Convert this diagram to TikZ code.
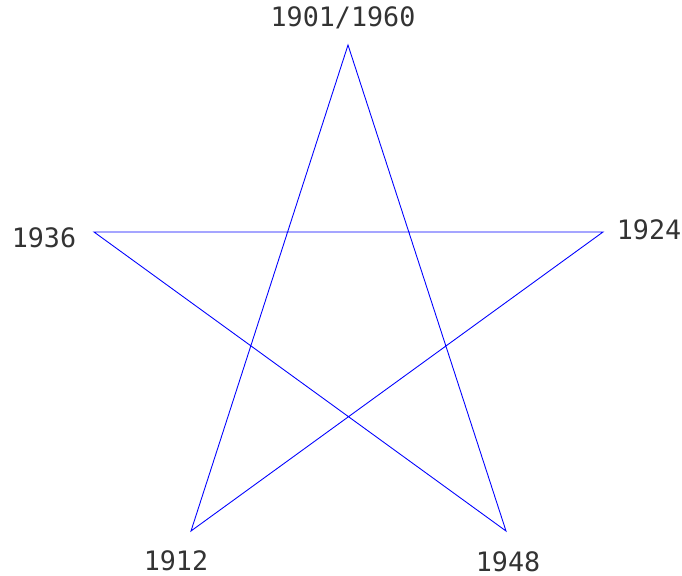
\documentclass[tikz,border=0pt]{standalone}
\usepackage{fontspec}
\setmonofont{DejaVu Sans Mono}
\usetikzlibrary{positioning}

\begin{document}
\begin{tikzpicture}[x=0.01cm,y=-0.01cm,
  yearlabel/.style={font=\ttfamily\fontsize{7.6}{9}\selectfont,text=black!80,inner sep=0pt,anchor=center},
  starline/.style={draw=blue,line width=0.25pt,line join=miter}]
\useasboundingbox (0,0) rectangle (682,576);
% vertices of the star
\coordinate (top) at (348,45);
\coordinate (right) at (603,232);
\coordinate (left) at (94,232);
\coordinate (botleft) at (191,531);
\coordinate (botright) at (506,531);
\draw[starline] (top) -- (botleft) -- (right) -- (left) -- (botright) -- cycle;
% year labels
\node[yearlabel] (ytop) at (343,18) {1901/1960};
\node[yearlabel] (yright) at (649,230) {1924};
\node[yearlabel] (yleft) at (44,238) {1936};
\node[yearlabel] (ybl) at (176,561) {1912};
\node[yearlabel] (ybr) at (508,562) {1948};
\end{tikzpicture}
\end{document}
